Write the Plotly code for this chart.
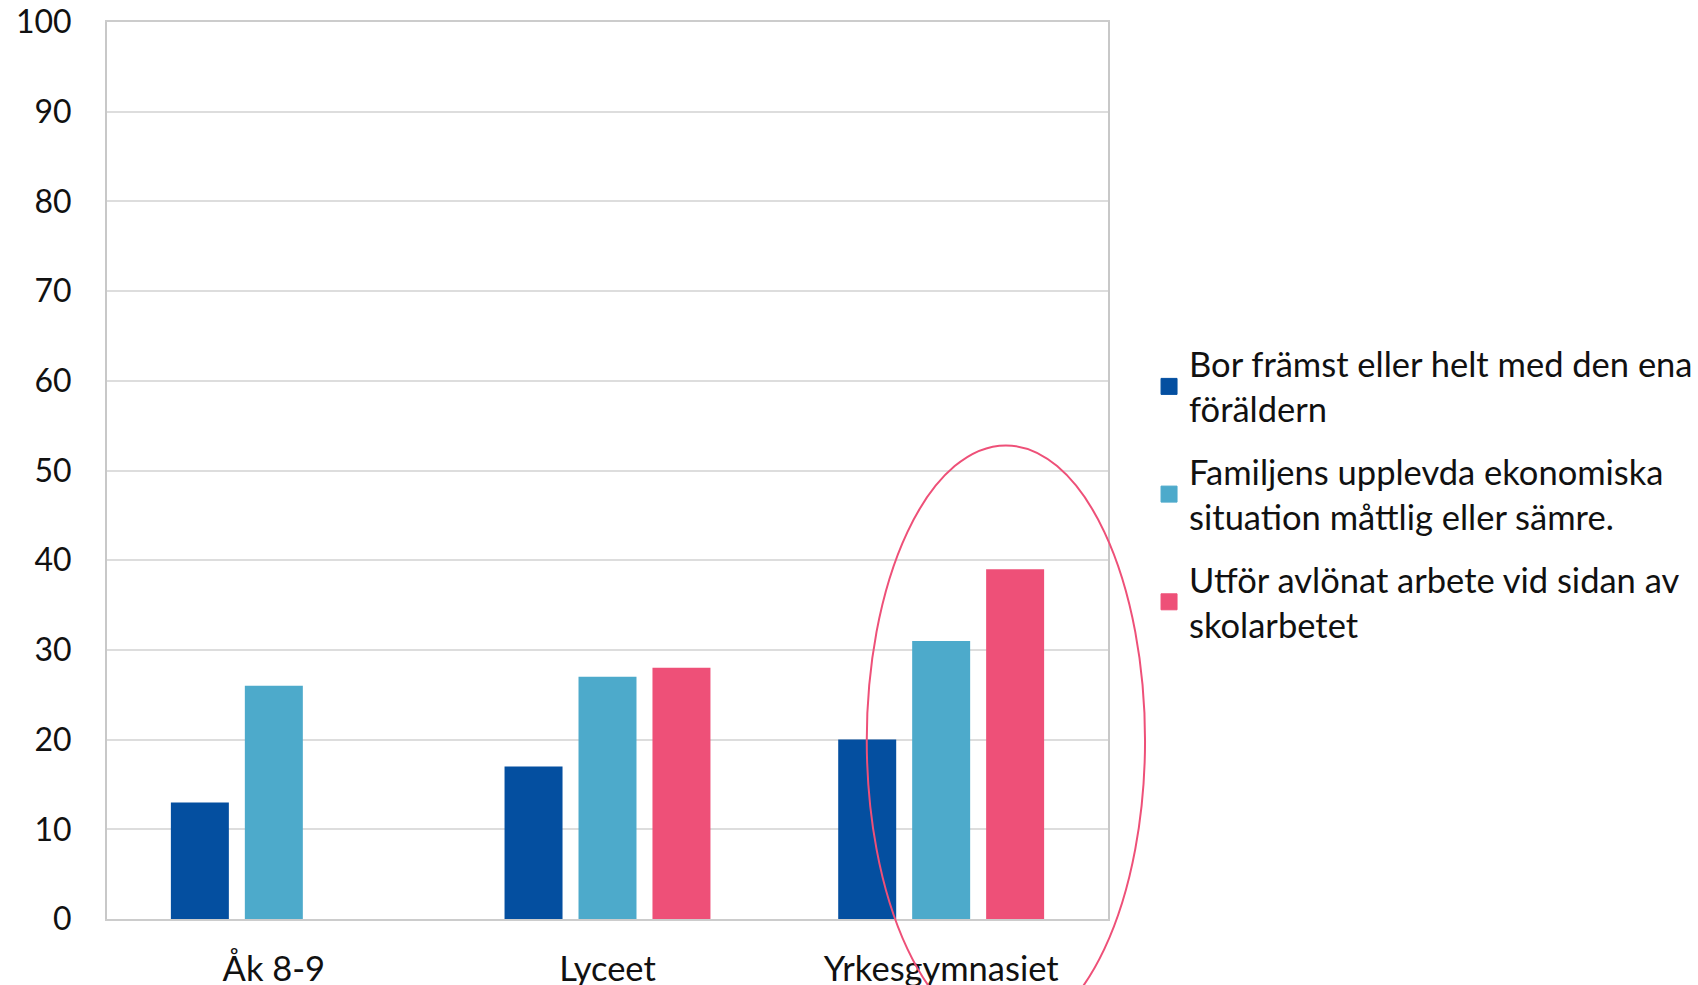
import plotly.graph_objects as go

categories = ["Åk 8-9", "Lyceet", "Yrkesgymnasiet"]
series_names = [
    "Bor främst eller helt med den ena<br>föräldern",
    "Familjens upplevda ekonomiska<br>situation måttlig eller sämre.",
    "Utför avlönat arbete vid sidan av<br>skolarbetet",
]
bor_ensam = [13, 17, 20]
ekonomi = [26, 27, 31]
arbete = [None, 28, 39]
series_values = [bor_ensam, ekonomi, arbete]
colors = ["#044FA0", "#4DAACB", "#EE5078"]
y_ticks = list(range(0, 101, 10))

FONT = "Lato, Carlito, Calibri, sans-serif"
FS = 34.5

fig = go.Figure()
for i, (name, vals, col) in enumerate(zip(series_names, series_values, colors)):
    fig.add_trace(go.Bar(
        x=categories, y=vals, name=name.replace("<br>", " "),
        marker=dict(color=col, line=dict(width=0)),
        legendgroup=f"g{i}", showlegend=False,
        hoverinfo="x+y",
    ))
    # legend entry with a larger square symbol
    fig.add_trace(go.Scatter(
        x=[None], y=[None], name=name, mode="markers",
        marker=dict(symbol="square", size=16, color=col,
                    line=dict(color=col, width=1)),
        legendgroup=f"g{i}", showlegend=True, hoverinfo="skip",
    ))

fig.update_layout(
    width=1698, height=985,
    margin=dict(l=107, r=590, t=22, b=66, autoexpand=False),
    paper_bgcolor="white", plot_bgcolor="white",
    barmode="group", bargap=0.335, bargroupgap=0.216,
    font=dict(family=FONT, size=FS, color="#222222"),
    showlegend=True,
    legend=dict(
        x=1.041, xanchor="left", y=0.651, yanchor="top",
        font=dict(family=FONT, size=FS, color="#111111"),
        bgcolor="rgba(0,0,0,0)",
        traceorder="grouped", tracegroupgap=15,
    ),
    xaxis=dict(
        showline=True, linecolor="#CCCCCC", linewidth=2, mirror=True,
        showgrid=False, ticks="outside", ticklen=19, tickcolor="rgba(0,0,0,0)",
        tickfont=dict(family=FONT, size=FS, color="#111111"),
        automargin=False,
    ),
    yaxis=dict(
        range=[0, 100], tickvals=y_ticks,
        showline=True, linecolor="#C8C8C8", linewidth=2, mirror=True,
        showgrid=True, gridcolor="#DDDDDD", gridwidth=2,
        zeroline=False, ticks="", ticklabelstandoff=27,
        tickfont=dict(family=FONT, size=32, color="#111111"),
        automargin=False,
    ),
)

# Highlight ellipse around the Yrkesgymnasiet group
fig.add_shape(
    type="circle", xref="paper", yref="paper",
    x0=0.759, x1=1.037, y0=-0.130, y1=0.528,
    line=dict(color="#EE5078", width=2), fillcolor="rgba(0,0,0,0)",
    layer="above",
)

fig.write_html(
    "out.html",
    config={"displayModeBar": False},
    post_script="document.body.style.margin='0';document.body.style.overflow='hidden';",
)
